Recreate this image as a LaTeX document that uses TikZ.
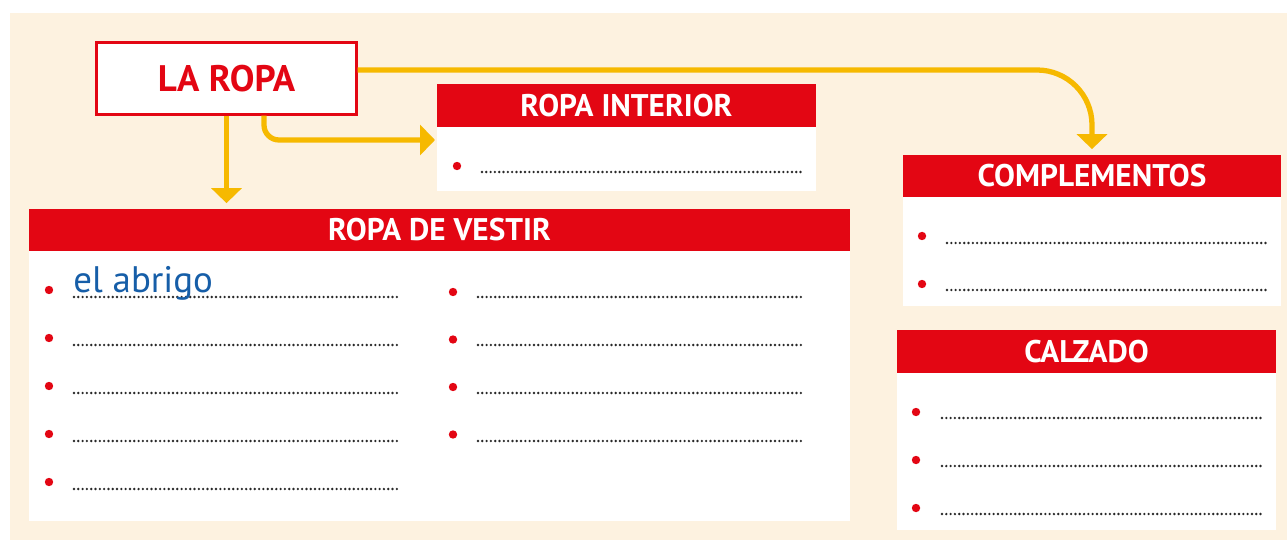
\documentclass[tikz,border=0pt]{standalone}
\usepackage{fontspec}
\setmainfont{PT Sans}
\usetikzlibrary{arrows.meta}
\definecolor{rojo}{RGB}{227,6,19}
\definecolor{amarillo}{RGB}{246,185,0}
\definecolor{crema}{RGB}{253,242,224}
\definecolor{azul}{RGB}{22,94,168}
\definecolor{puntos}{RGB}{40,40,40}

\begin{document}
\begin{tikzpicture}[x=0.02cm, y=-0.02cm,
    cabecera/.style={fill=rojo, text=white, font=\bfseries\fontsize{17.8}{20}\selectfont, inner sep=0pt, minimum height=0.85cm},
    flecha/.style={draw=amarillo, line width=3pt, -{Triangle[width=17pt,length=8.5pt]}},
    vineta/.style={fill=rojo},
    renglon/.style={draw=puntos, line width=1.5pt, line cap=round, dash pattern=on 0pt off 2.45pt}]

    % Fondo
    \useasboundingbox (0,0) rectangle (1287,540);
    \fill[crema] (10,13) rectangle (1287,540);

    % Cuerpos blancos
    \fill[white] (437,127) rectangle (816,191);
    \fill[white] (29,251) rectangle (850,521);
    \fill[white] (903,197) rectangle (1281,306);
    \fill[white] (897,373) rectangle (1276,530);

    % Cabeceras
    \node[draw=rojo, line width=1.2pt, fill=white, text=rojo, font=\bfseries\fontsize{21}{24}\selectfont,
          minimum width=5.2cm, minimum height=1.44cm] (laropa) at (226.5,78.5) {LA ROPA};
    \node[cabecera, minimum width=7.58cm] (interior) at (626.5,105.5) {ROPA INTERIOR};
    \node[cabecera, minimum width=16.42cm] (vestir) at (439.5,230) {ROPA DE VESTIR};
    \node[cabecera, minimum width=7.56cm] (complementos) at (1092,176) {COMPLEMENTOS};
    \node[cabecera, minimum width=7.58cm] (calzado) at (1086.5,351.5) {CALZADO};

    % Flechas
    \coordinate (entrada) at (435,140);
    \draw[flecha, shorten >=3pt] (laropa.south) -- (laropa.south |- vestir.north);
    \draw[flecha, rounded corners=0.3cm] (laropa.south -| 264,0) |- (entrada);
    \draw[flecha, rounded corners=1.1cm, shorten >=3pt] ([yshift=0.17cm]laropa.east) -| (complementos.north);

    % Renglones
    \fill[vineta] (457,166) circle (4.2);
    \draw[renglon] (482,172) -- (802,172);
    \foreach \i in {0,...,4} {
        \fill[vineta] (49,290+48*\i) circle (4.2);
        \draw[renglon] (74,297+48*\i) -- (400,297+48*\i);
    }
    \foreach \i in {0,...,3} {
        \fill[vineta] (453,292+47.5*\i) circle (4.2);
        \draw[renglon] (478,297+48*\i) -- (804,297+48*\i);
    }
    \foreach \i in {0,1} {
        \fill[vineta] (922,236+48*\i) circle (4.2);
        \draw[renglon] (947,243+47*\i) -- (1266,243+47*\i);
    }
    \foreach \i in {0,1,2} {
        \fill[vineta] (916,412+48*\i) circle (4.2);
        \draw[renglon] (942,418+48*\i) -- (1261,418+48*\i);
    }

    % Respuesta
    \node[anchor=base west, inner sep=0pt, text=azul, font=\fontsize{21}{24}\selectfont] (abrigo) at (73,293) {el abrigo};
\end{tikzpicture}
\end{document}
